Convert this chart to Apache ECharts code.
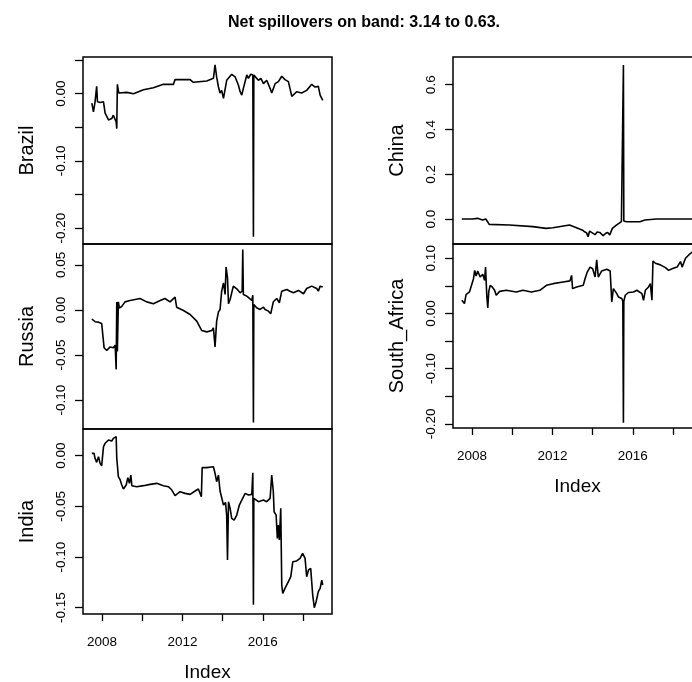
<!DOCTYPE html>
<html><head><meta charset="utf-8">
<script src="https://cdn.jsdelivr.net/npm/echarts@6/dist/echarts.min.js"></script>
<style>html,body{margin:0;padding:0;background:#fff}#c{width:692px;height:682px}</style>
</head><body><div id="c"></div>
<script>
// ---- data (decimal years, values) ----
const brazilDates = [2007.49,2007.57,2007.65,2007.73,2007.77,2007.90,2008.07,2008.15,2008.32,2008.48,2008.56,2008.70,2008.73,2008.76,2008.83,2009.23,2009.56,2010.06,2010.55,2011.05,2011.55,2011.63,2012.38,2012.54,2013.21,2013.54,2013.62,2013.70,2013.79,2013.87,2013.95,2014.04,2014.20,2014.45,2014.62,2014.78,2014.87,2014.95,2015.03,2015.20,2015.28,2015.40,2015.50,2015.53,2015.55,2015.66,2015.78,2015.90,2016.03,2016.19,2016.36,2016.44,2016.61,2016.77,2016.94,2017.10,2017.27,2017.44,2017.68,2017.93,2018.18,2018.43,2018.60,2018.76,2018.85,2018.98];
const brazilValues = [-0.014,-0.027,-0.012,0.011,-0.012,-0.013,-0.012,-0.029,-0.039,-0.037,-0.032,-0.042,-0.052,0.014,0.001,0.002,0.000,0.006,0.009,0.014,0.014,0.021,0.021,0.017,0.019,0.023,0.043,0.025,0.010,0.001,0.005,-0.007,0.020,0.029,0.025,0.013,0.003,-0.002,0.008,0.028,0.023,0.029,0.028,-0.213,0.028,0.024,0.020,0.023,0.015,0.020,0.008,0.001,0.015,0.018,0.026,0.021,0.018,-0.004,0.003,0.001,0.005,0.014,0.010,0.011,-0.002,-0.010];

const russiaDates = [2007.49,2007.65,2007.82,2007.98,2008.07,2008.10,2008.23,2008.40,2008.56,2008.65,2008.70,2008.73,2008.76,2008.81,2008.86,2008.98,2009.14,2009.39,2009.89,2010.22,2010.55,2010.89,2011.13,2011.38,2011.63,2011.71,2012.05,2012.38,2012.71,2012.96,2013.21,2013.46,2013.54,2013.62,2013.70,2013.79,2013.87,2013.95,2014.04,2014.12,2014.17,2014.24,2014.29,2014.37,2014.53,2014.73,2014.87,2014.97,2015.00,2015.03,2015.20,2015.45,2015.50,2015.53,2015.55,2015.69,2015.86,2016.03,2016.11,2016.28,2016.39,2016.52,2016.69,2016.82,2016.94,2017.19,2017.35,2017.52,2017.77,2018.02,2018.18,2018.43,2018.68,2018.76,2018.85,2018.98];
const russiaValues = [-0.010,-0.013,-0.0135,-0.015,-0.014,-0.042,-0.045,-0.041,-0.042,-0.039,-0.066,0.009,-0.046,0.009,0.002,0.004,0.009,0.0106,0.0128,0.009,0.0069,0.0106,0.0128,0.009,0.0143,0.0031,-0.0006,-0.005,-0.0124,-0.0228,-0.0243,-0.0228,-0.0198,-0.041,-0.0124,-0.0021,0.0006,0.0209,0.0302,0.0172,0.0476,0.0357,0.0069,0.0117,0.0265,0.0228,0.0191,0.0209,0.0672,0.0172,0.0154,0.0106,0.0165,-0.125,0.0061,0.0024,0.0006,0.0031,0.0006,-0.0013,-0.0043,0.0091,0.0128,0.008,0.0209,0.0228,0.0209,0.0191,0.0217,0.018,0.0239,0.0265,0.0239,0.0209,0.0265,0.0254];

const indiaDates = [2007.49,2007.60,2007.65,2007.73,2007.82,2007.90,2007.98,2008.03,2008.07,2008.15,2008.32,2008.48,2008.56,2008.70,2008.73,2008.81,2008.90,2008.98,2009.06,2009.20,2009.28,2009.36,2009.43,2009.48,2009.72,2010.06,2010.39,2010.72,2011.05,2011.30,2011.47,2011.63,2011.88,2012.13,2012.38,2012.63,2012.79,2012.88,2012.94,2012.98,2013.21,2013.54,2013.62,2013.70,2013.79,2013.87,2013.95,2014.04,2014.14,2014.20,2014.24,2014.29,2014.37,2014.45,2014.57,2014.70,2014.83,2014.95,2015.12,2015.28,2015.45,2015.50,2015.53,2015.55,2015.78,2016.03,2016.19,2016.36,2016.44,2016.52,2016.56,2016.66,2016.72,2016.77,2016.82,2016.89,2016.94,2016.99,2017.10,2017.27,2017.39,2017.49,2017.68,2017.85,2017.98,2018.10,2018.18,2018.27,2018.38,2018.48,2018.56,2018.65,2018.76,2018.85,2018.93,2018.98];
const indiaValues = [0.0023,0.0023,-0.0026,-0.0066,-0.0010,-0.0076,-0.0099,-0.0109,0.0089,0.0122,0.0155,0.0145,0.0171,0.0188,-0.0026,-0.0207,-0.0240,-0.0289,-0.0329,-0.0289,-0.0217,-0.0273,-0.0191,-0.0296,-0.0306,-0.0296,-0.0283,-0.0273,-0.0296,-0.0306,-0.0339,-0.0395,-0.0355,-0.0372,-0.0382,-0.0349,-0.0329,-0.0339,-0.0405,-0.0118,-0.0118,-0.0109,-0.0174,-0.0257,-0.0191,-0.0349,-0.0339,-0.0487,-0.0461,-0.0586,-0.1030,-0.0454,-0.0520,-0.0618,-0.0635,-0.0586,-0.0487,-0.0438,-0.0372,-0.0388,-0.0382,-0.0168,-0.147,-0.0421,-0.0454,-0.0438,-0.0454,-0.0421,-0.0191,-0.0355,-0.0553,-0.0586,-0.0816,-0.0684,-0.0832,-0.0520,-0.1276,-0.1359,-0.1309,-0.1243,-0.1194,-0.1046,-0.1039,-0.1013,-0.0964,-0.1013,-0.1194,-0.1128,-0.1112,-0.1375,-0.1500,-0.1441,-0.1342,-0.1309,-0.1227,-0.1276];

const chinaDates = [2007.49,2008.01,2008.27,2008.52,2008.68,2008.77,2008.85,2009.85,2011.02,2011.68,2012.02,2012.85,2013.35,2013.50,2013.60,2013.70,2013.77,2013.85,2014.02,2014.12,2014.22,2014.35,2014.52,2014.65,2014.75,2014.85,2014.98,2015.18,2015.43,2015.50,2015.53,2015.55,2015.68,2016.35,2016.60,2017.18,2018.98];
const chinaValues = [0,0,0.003,-0.0045,0,-0.012,-0.024,-0.027,-0.034,-0.042,-0.039,-0.027,-0.045,-0.050,-0.057,-0.062,-0.079,-0.054,-0.064,-0.070,-0.058,-0.060,-0.074,-0.064,-0.060,-0.071,-0.042,-0.027,-0.012,-0.009,0.688,-0.009,-0.012,-0.012,-0.0045,0,0];

const safricaDates = [2007.49,2007.53,2007.62,2007.70,2007.78,2007.87,2007.95,2008.07,2008.13,2008.20,2008.28,2008.40,2008.53,2008.62,2008.67,2008.73,2008.78,2008.83,2008.90,2009.00,2009.12,2009.20,2009.37,2009.70,2010.20,2010.53,2010.95,2011.37,2011.70,2012.03,2012.53,2012.87,2012.95,2013.00,2013.20,2013.53,2013.62,2013.73,2013.87,2014.00,2014.12,2014.20,2014.28,2014.45,2014.70,2014.87,2014.95,2015.03,2015.20,2015.28,2015.45,2015.50,2015.53,2015.55,2015.62,2015.78,2016.03,2016.20,2016.45,2016.53,2016.62,2016.78,2016.87,2016.95,2017.00,2017.12,2017.37,2017.62,2017.78,2017.95,2018.20,2018.37,2018.45,2018.62,2018.78,2018.98];
const safricaValues = [0.024,0.027,0.018,0.034,0.032,0.039,0.042,0.063,0.078,0.068,0.077,0.066,0.071,0.060,0.084,0.033,0.010,0.040,0.051,0.048,0.042,0.033,0.040,0.042,0.039,0.042,0.039,0.042,0.051,0.054,0.057,0.059,0.069,0.045,0.048,0.051,0.063,0.075,0.084,0.081,0.066,0.097,0.066,0.077,0.080,0.077,0.021,0.045,0.036,0.030,0.027,0.022,-0.198,0.022,0.033,0.038,0.039,0.042,0.036,0.024,0.042,0.048,0.054,0.024,0.095,0.091,0.088,0.083,0.078,0.081,0.084,0.094,0.084,0.100,0.106,0.112];

// ---- axis ticks / labels ----
const xTicks = [2008,2010,2012,2014,2016,2018];
const xLabels = [2008,2012,2016];
const brazilYTicks = [-0.20,-0.15,-0.10,-0.05,0.00,0.05];
const brazilYLabels = [-0.20,-0.10,0.00];
const russiaYTicks = [-0.10,-0.05,0.00,0.05];
const indiaYTicks = [-0.15,-0.10,-0.05,0.00];
const chinaYTicks = [0.0,0.2,0.4,0.6];
const safricaYTicks = [-0.20,-0.15,-0.10,-0.05,0.00,0.05,0.10];
const safricaYLabels = [-0.20,-0.10,0.00,0.10];
const titleText = 'Net spillovers on band: 3.14 to 0.63.';

const FONT = '"Liberation Sans", Arial, Helvetica, sans-serif';
const panels = [
  {name:'Brazil', d:brazilDates, v:brazilValues, g:{left:83,top:57,width:249,height:187}, min:-0.2238, max:0.0547, ticks:brazilYTicks, labels:brazilYLabels, dec:2, bottom:false},
  {name:'Russia', d:russiaDates, v:russiaValues, g:{left:83,top:244,width:249,height:185}, min:-0.1322, max:0.0733, ticks:russiaYTicks, labels:russiaYTicks, dec:2, bottom:false},
  {name:'India', d:indiaDates, v:indiaValues, g:{left:83,top:429,width:249,height:185}, min:-0.1562, max:0.0263, ticks:indiaYTicks, labels:indiaYTicks, dec:2, bottom:true},
  {name:'China', d:chinaDates, v:chinaValues, g:{left:453,top:57,width:249,height:187}, min:-0.1117, max:0.724, ticks:chinaYTicks, labels:chinaYTicks, dec:1, bottom:false},
  {name:'South_Africa', d:safricaDates, v:safricaValues, g:{left:453,top:244,width:249,height:184}, min:-0.2073, max:0.1258, ticks:safricaYTicks, labels:safricaYLabels, dec:2, bottom:true}
];

const option = {
  animation:false,
  backgroundColor:'#fff',
  title:{text:titleText, left:359, top:10, textAlign:'center',
    textStyle:{fontFamily:FONT, fontSize:16, fontWeight:'bold', color:'#000'}},
  grid:[], xAxis:[], yAxis:[], series:[]
};
panels.forEach((p,i)=>{
  option.grid.push(Object.assign({show:true, borderColor:'#000', borderWidth:1.5, backgroundColor:'transparent', containLabel:false, outerBoundsMode:'none'}, p.g));
  option.xAxis.push({type:'value', gridIndex:i, min:2007.05, max:2019.44, position:'bottom',
    splitLine:{show:false}, axisLine:{show:false, onZero:false},
    axisTick:{show:p.bottom, inside:false, length:7, lineStyle:{color:'#000', width:1.3}, customValues:xTicks},
    axisLabel:{show:p.bottom, customValues:xLabels, margin:21, color:'#000', fontFamily:FONT, fontSize:13.5, formatter:v=>String(v)},
    name:p.bottom?'Index':'', nameLocation:'middle', nameGap:49,
    nameTextStyle:{fontFamily:FONT, fontSize:19, color:'#000'}});
  option.yAxis.push({type:'value', gridIndex:i, min:p.min, max:p.max, position:'left',
    splitLine:{show:false}, axisLine:{show:false, onZero:false},
    axisTick:{show:true, inside:false, length:8, lineStyle:{color:'#000', width:1.3}, customValues:p.ticks},
    axisLabel:{show:true, customValues:p.labels, rotate:90, margin:15, color:'#000', fontFamily:FONT, fontSize:13.5, formatter:v=>v.toFixed(p.dec)},
    name:p.name, nameLocation:'middle', nameGap:46,
    nameTextStyle:{fontFamily:FONT, fontSize:20, color:'#000'}});
  option.series.push({type:'line', xAxisIndex:i, yAxisIndex:i, showSymbol:false, symbol:'none',
    lineStyle:{color:'#000', width:1.6}, data:p.d.map((t,k)=>[t,p.v[k]]), clip:true});
});
const chart = echarts.init(document.getElementById('c'), null, {renderer:'canvas'});
chart.setOption(option);
</script></body></html>
